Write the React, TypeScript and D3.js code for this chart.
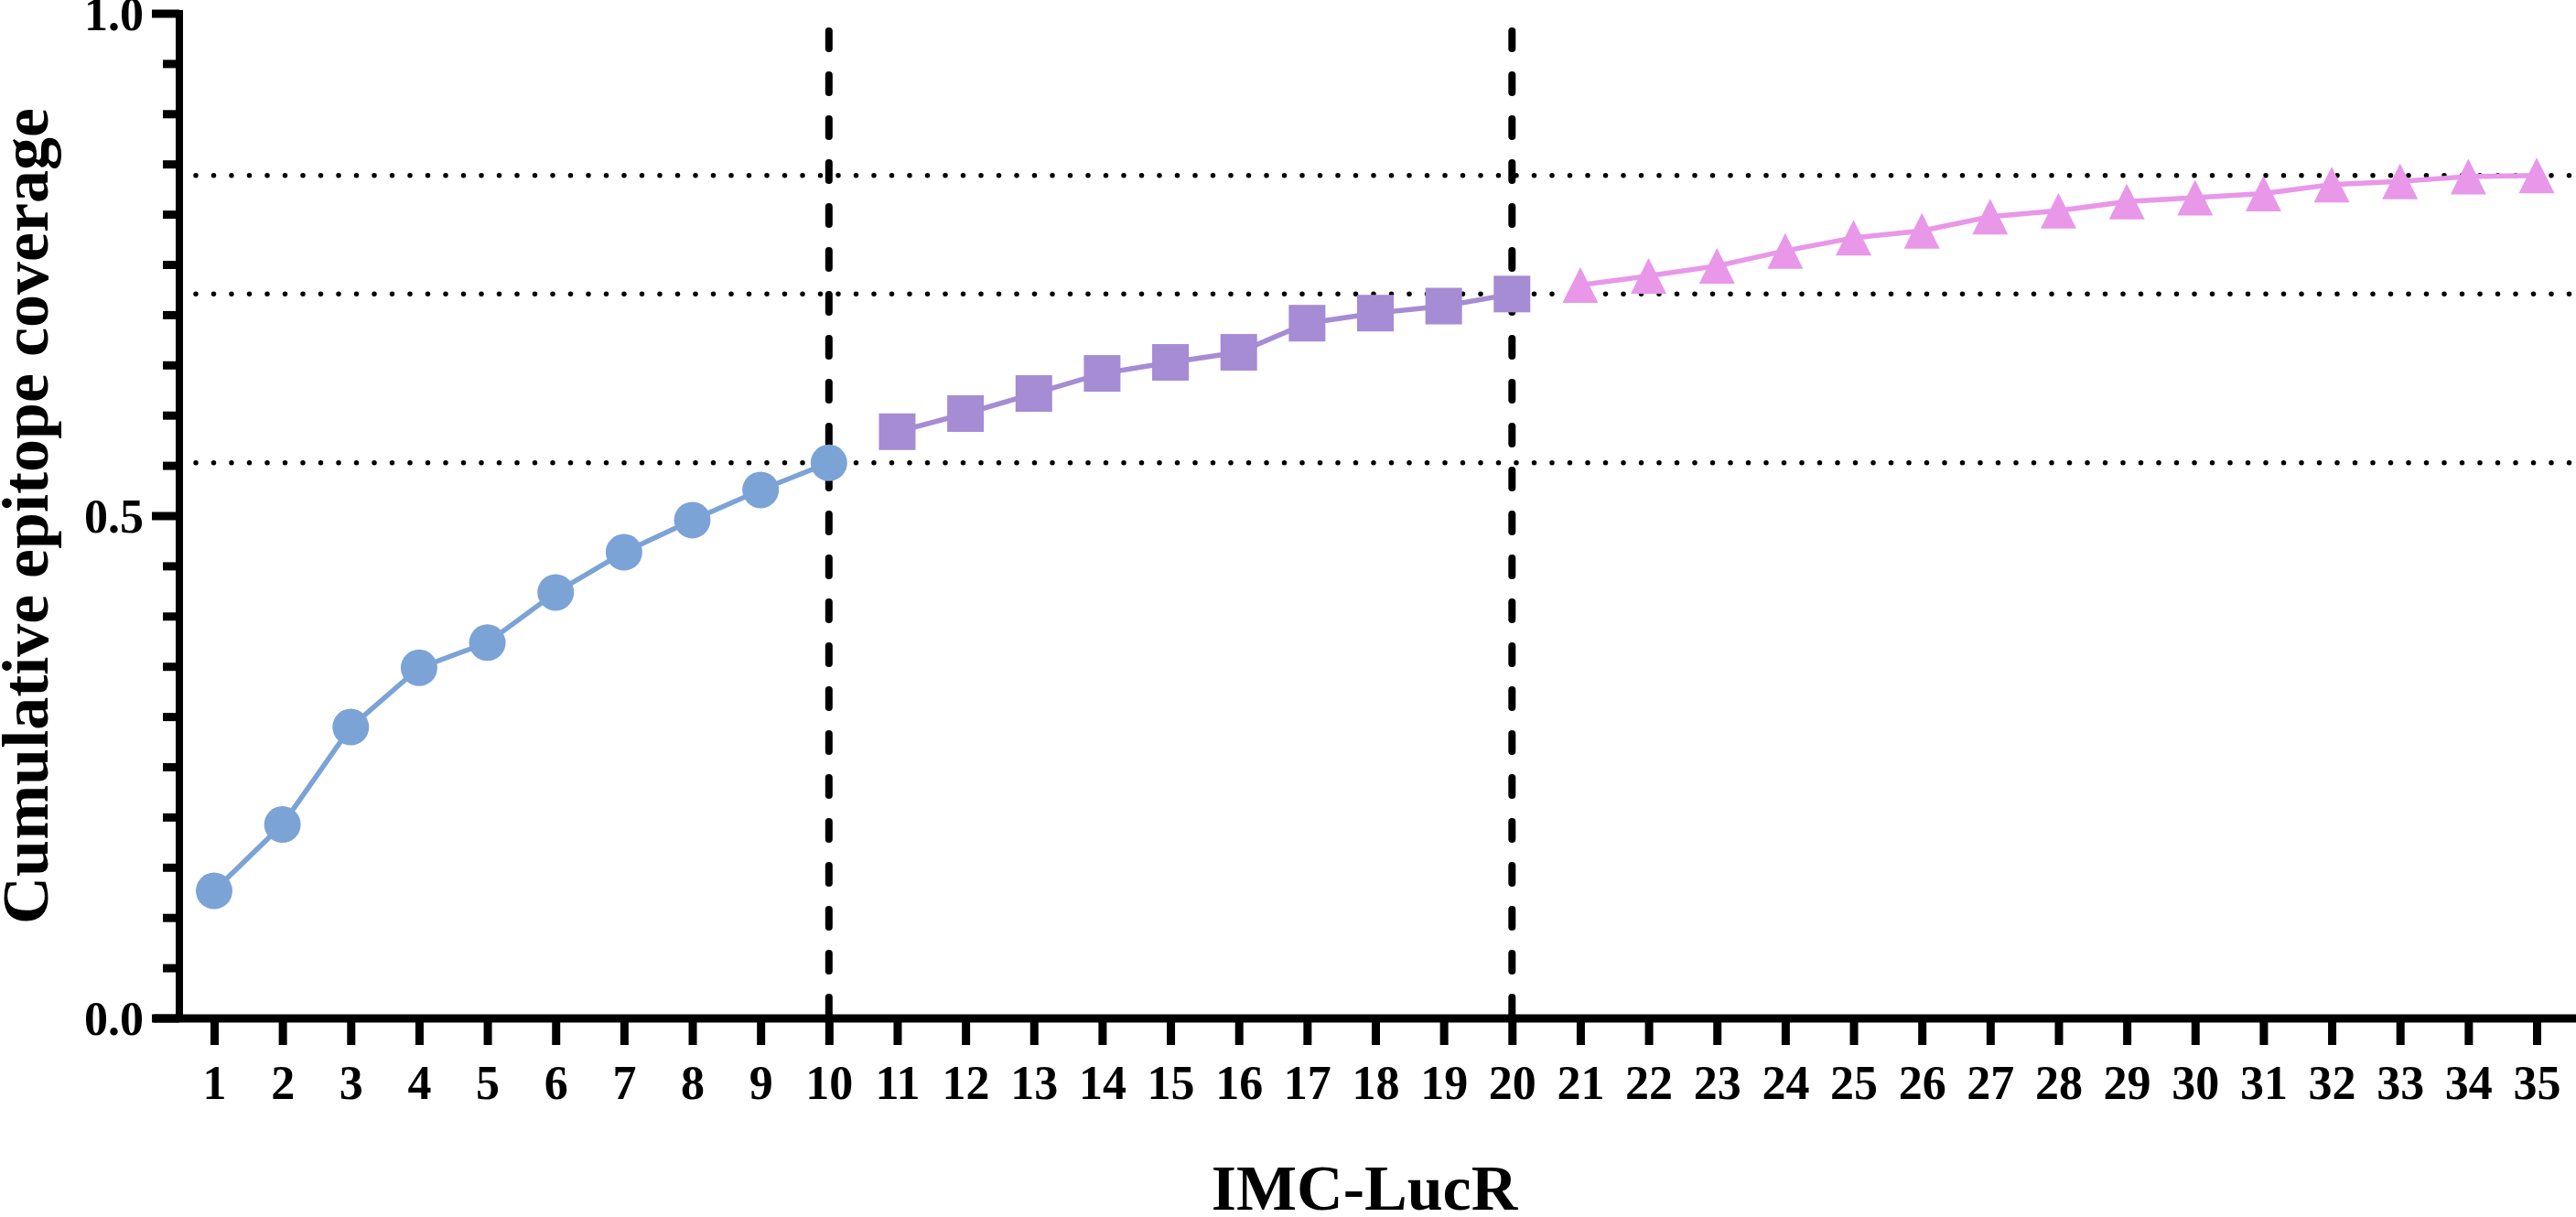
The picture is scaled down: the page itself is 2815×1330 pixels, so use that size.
import React, { useEffect, useRef } from 'react';
import * as d3 from 'd3';

// number of epitopes added (x categories)
const epitopeCounts = [
  1, 2, 3, 4, 5, 6, 7, 8, 9, 10,
  11, 12, 13, 14, 15, 16, 17, 18, 19, 20,
  21, 22, 23, 24, 25, 26, 27, 28, 29, 30,
  31, 32, 33, 34, 35
];

// cumulative coverage
const stageOne = [0.127, 0.193, 0.290, 0.349, 0.374, 0.424, 0.464, 0.496, 0.526, 0.553];
const stageTwo = [0.584, 0.602, 0.622, 0.642, 0.653, 0.663, 0.692, 0.702, 0.709, 0.721];
const stageThree = [
  0.730, 0.739, 0.749, 0.764, 0.777, 0.784, 0.798, 0.804, 0.813, 0.817,
  0.821, 0.830, 0.833, 0.838, 0.839
];

const cutoffs = [10, 20];
const yTickLabels = [0, 0.5, 1.0];

const W = 2815;
const H = 1330;
const FONT = "'Liberation Serif', 'Times New Roman', serif";

const colors = { circle: '#7ca3d6', square: '#a58cd4', triangle: '#e897e9' };

export default function App() {
  const svgRef = useRef<SVGSVGElement>(null);

  useEffect(() => {
    if (!svgRef.current) return;
    const svg = d3.select(svgRef.current);
    svg.selectAll('*').remove();

    const x = d3.scaleLinear().domain([1, 35]).range([234, 2772]);
    const y = d3.scaleLinear().domain([0, 1]).range([1113, 15]);

    const series = [
      { shape: 'circle', color: colors.circle, values: stageOne, xs: epitopeCounts.slice(0, 10) },
      { shape: 'square', color: colors.square, values: stageTwo, xs: epitopeCounts.slice(10, 20) },
      { shape: 'triangle', color: colors.triangle, values: stageThree, xs: epitopeCounts.slice(20) }
    ];

    // horizontal dotted reference lines at the end of each stage
    const levels = series.map(s => s.values[s.values.length - 1]);
    svg.append('g')
      .selectAll('line')
      .data(levels)
      .join('line')
      .attr('x1', 214)
      .attr('x2', 2808)
      .attr('y1', d => y(d))
      .attr('y2', d => y(d))
      .attr('stroke', '#000')
      .attr('stroke-width', 5.5)
      .attr('stroke-linecap', 'round')
      .attr('stroke-dasharray', '0 19.5');

    // vertical dashed cut-offs
    svg.append('g')
      .selectAll('line')
      .data(cutoffs)
      .join('line')
      .attr('x1', d => x(d))
      .attr('x2', d => x(d))
      .attr('y1', y(0) - 4)
      .attr('y2', 18)
      .attr('stroke', '#000')
      .attr('stroke-width', 8)
      .attr('stroke-linecap', 'round')
      .attr('stroke-dasharray', '19 29');

    // connecting lines and markers
    series.forEach(s => {
      const pts = s.values.map((v, i) => [x(s.xs[i]), y(v)] as [number, number]);
      svg.append('path')
        .attr('d', d3.line()(pts))
        .attr('fill', 'none')
        .attr('stroke', s.color)
        .attr('stroke-width', 5.5);

      const g = svg.append('g').attr('fill', s.color);
      pts.forEach(([px, py]) => {
        if (s.shape === 'circle') {
          g.append('circle').attr('cx', px).attr('cy', py).attr('r', 20);
        } else if (s.shape === 'square') {
          g.append('rect').attr('x', px - 20).attr('y', py - 20).attr('width', 40).attr('height', 40);
        } else {
          g.append('path').attr('d', `M${px},${py - 19.5}L${px + 19.5},${py + 19.5}L${px - 19.5},${py + 19.5}Z`);
        }
      });
    });

    // x axis
    const xAxis = svg.append('g').attr('transform', `translate(0,${y(0)})`);
    xAxis.call(
      d3.axisBottom(x)
        .tickValues(epitopeCounts)
        .tickSize(29)
        .tickSizeOuter(0)
        .tickFormat(d => String(d))
    );
    xAxis.select('.domain').remove();
    xAxis.selectAll('.tick line').attr('stroke', '#000').attr('stroke-width', 9);
    xAxis.selectAll('.tick text')
      .attr('y', 88)
      .attr('dy', 0)
      .attr('fill', '#000')
      .style('font-family', FONT)
      .style('font-weight', 'bold')
      .style('font-size', '52px');
    xAxis.append('line')
      .attr('x1', 168)
      .attr('x2', W)
      .attr('y1', 0)
      .attr('y2', 0)
      .attr('stroke', '#000')
      .attr('stroke-width', 9);

    // y axis: major ticks at labels, minor every 0.05
    const yAxis = svg.append('g').attr('transform', 'translate(196,0)');
    yAxis.selectAll('line.tick')
      .data(y.ticks(20))
      .join('line')
      .attr('class', 'tick')
      .attr('x1', d => (yTickLabels.includes(d) ? -30 : -18))
      .attr('x2', 0)
      .attr('y1', d => y(d))
      .attr('y2', d => y(d))
      .attr('stroke', '#000')
      .attr('stroke-width', 9);
    yAxis.append('line')
      .attr('x1', 0)
      .attr('x2', 0)
      .attr('y1', y(1) - 4)
      .attr('y2', y(0) + 4)
      .attr('stroke', '#000')
      .attr('stroke-width', 8);
    yAxis.selectAll('text')
      .data(yTickLabels)
      .join('text')
      .attr('x', -39)
      .attr('y', d => y(d))
      .attr('dy', '0.35em')
      .attr('text-anchor', 'end')
      .style('font-family', FONT)
      .style('font-weight', 'bold')
      .style('font-size', '52px')
      .text(d => d.toFixed(1));

    // titles
    svg.append('text')
      .attr('transform', `translate(52,${(y(0) + y(1)) / 2}) rotate(-90)`)
      .attr('text-anchor', 'middle')
      .style('font-family', FONT)
      .style('font-weight', 'bold')
      .style('font-size', '72px')
      .text('Cumulative epitope coverage');

    svg.append('text')
      .attr('x', 1491)
      .attr('y', 1322)
      .attr('text-anchor', 'middle')
      .style('font-family', FONT)
      .style('font-weight', 'bold')
      .style('font-size', '70px')
      .text('IMC-LucR');
  }, []);

  return (
    <svg
      ref={svgRef}
      width={W}
      height={H}
      style={{ position: 'absolute', left: 0, top: 0, background: '#fff', display: 'block' }}
    />
  );
}
